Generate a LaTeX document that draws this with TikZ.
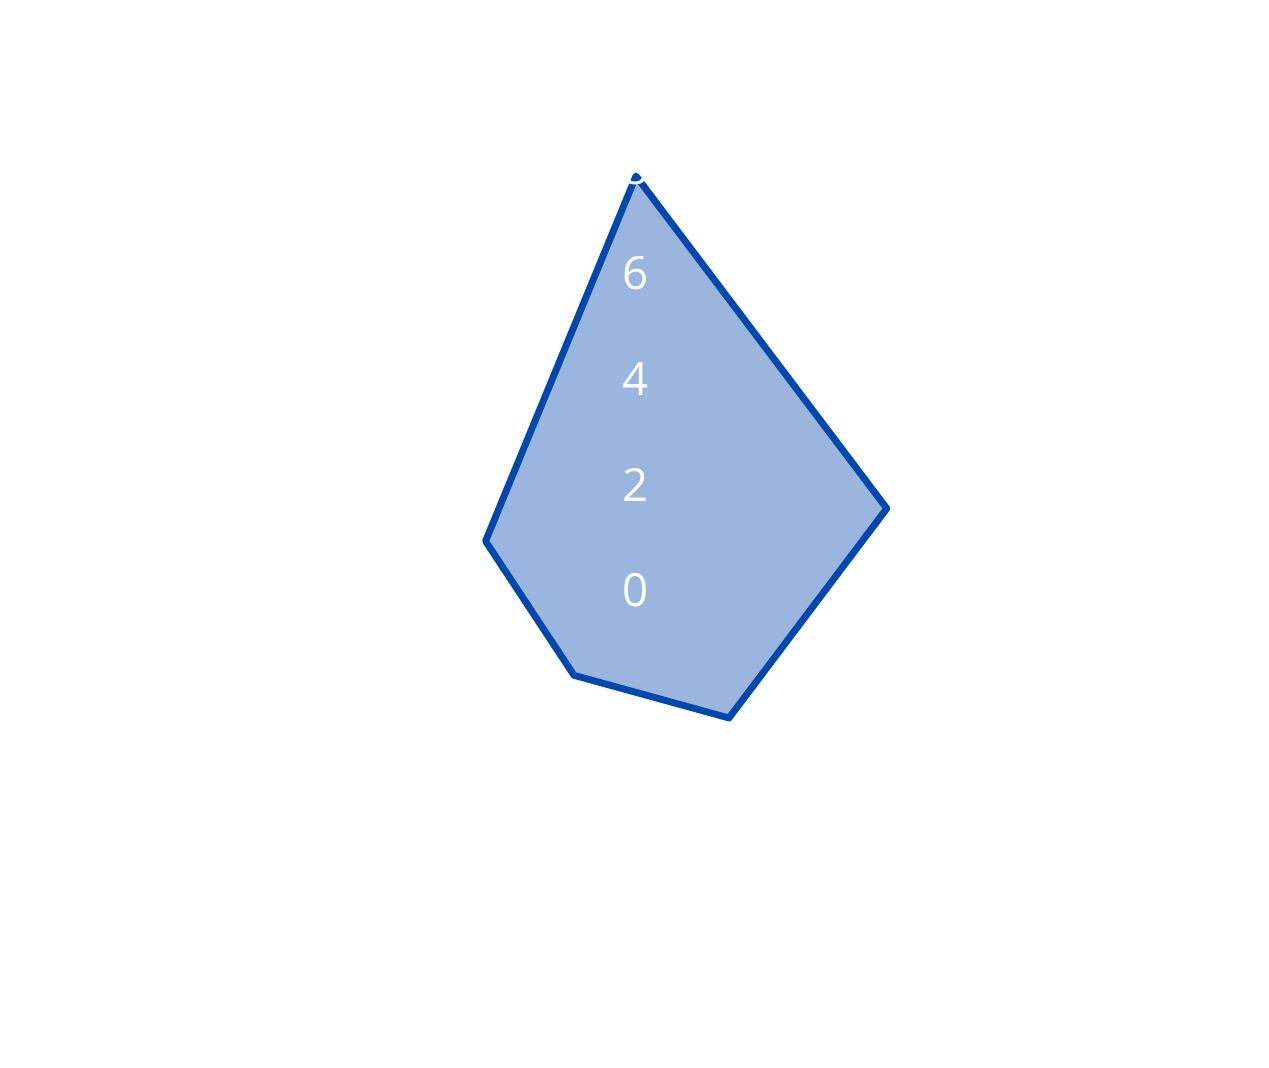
\documentclass[tikz,border=0pt]{standalone}
\usepackage{fontspec}
\setmainfont{Open Sans}
\definecolor{radarline}{RGB}{0,72,174}
\definecolor{radarfill}{RGB}{154,182,223}

\begin{document}
\begin{tikzpicture}[x=0.02cm,y=0.02cm,
    ticklabel/.style={text=white,inner sep=0pt,font=\fontsize{26}{30}\selectfont},
    radar/.style={line width=3.9pt,draw=radarline,line join=round}]
  \useasboundingbox (0,0) rectangle (1269,1068);
  \begin{scope}[shift={(636,478)},x=1.055cm,y=1.055cm]
    \coordinate (v1) at (90:7.85);
    \coordinate (v2) at (18:5);
    \coordinate (v3) at (-54:3);
    \coordinate (v4) at (-126:2);
    \coordinate (v5) at (162:3);

    \draw[radar,fill=radarfill] (v1) -- (v2) -- (v3) -- (v4) -- (v5) -- cycle;

    \foreach \t in {0,2,4,6,8}
      \node[ticklabel] (l\t) at (0,\t) {\t};
  \end{scope}
\end{tikzpicture}
\end{document}
